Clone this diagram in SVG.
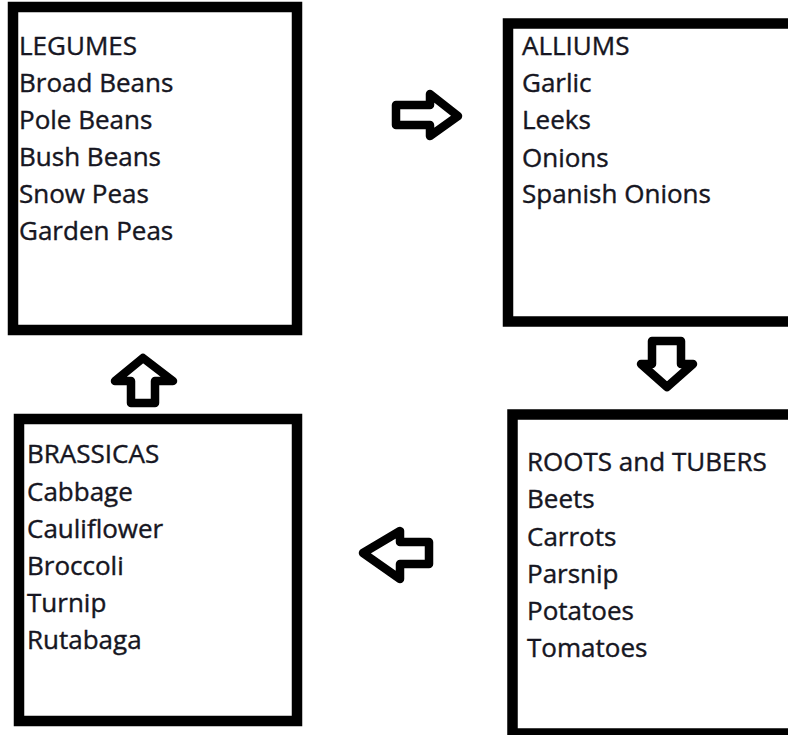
<svg xmlns="http://www.w3.org/2000/svg" width="788" height="735" viewBox="0 0 788 735">
<style>
.box{fill:#fff;stroke:#000;stroke-width:10.5}
.arrow{fill:#fff;stroke:#000;stroke-width:8.5;stroke-linejoin:round}
text{font-family:"Open Sans","DejaVu Sans",sans-serif;font-size:26px;fill:#161622;stroke:#161622;stroke-width:0.4}
</style>
<rect width="788" height="735" fill="#fff"/>
<g id="legumes">
<rect class="box" x="13" y="7" width="284" height="323"/>
<text x="19" y="55">LEGUMES</text>
<text x="19" y="92">Broad Beans</text>
<text x="19" y="129">Pole Beans</text>
<text x="19" y="166">Bush Beans</text>
<text x="19" y="203">Snow Peas</text>
<text x="19" y="240">Garden Peas</text>
</g>
<g id="alliums">
<rect class="box" x="508" y="23.5" width="300" height="298"/>
<text x="522" y="55">ALLIUMS</text>
<text x="522" y="92">Garlic</text>
<text x="522" y="129">Leeks</text>
<text x="522" y="166.5">Onions</text>
<text x="522" y="203">Spanish Onions</text>
</g>
<g id="roots">
<rect class="box" x="512.5" y="414.5" width="300" height="319"/>
<text x="527" y="471">ROOTS and TUBERS</text>
<text x="527" y="508">Beets</text>
<text x="527" y="545.5">Carrots</text>
<text x="527" y="582.5">Parsnip</text>
<text x="527" y="620">Potatoes</text>
<text x="527" y="657">Tomatoes</text>
</g>
<g id="brassicas">
<rect class="box" x="19" y="419" width="278" height="302"/>
<text x="27" y="463">BRASSICAS</text>
<text x="27" y="500.5">Cabbage</text>
<text x="27" y="537.5">Cauliflower</text>
<text x="27" y="575">Broccoli</text>
<text x="27" y="612">Turnip</text>
<text x="27" y="649">Rutabaga</text>
</g>
<g id="connectors">
<polygon class="arrow" points="396,105 430,105 430,94 458,116 430,136 430,125 396,125"/>
<polygon class="arrow" points="652,341 681,341 681,364 693,364 667,387 641,364 652,364"/>
<polygon class="arrow" points="363,553 400,531 400,542 429,542 429,564 400,564 400,579"/>
<polygon class="arrow" points="143,358 173,381 155,381 155,403 131,403 131,381 115,381"/>
</g>
</svg>
